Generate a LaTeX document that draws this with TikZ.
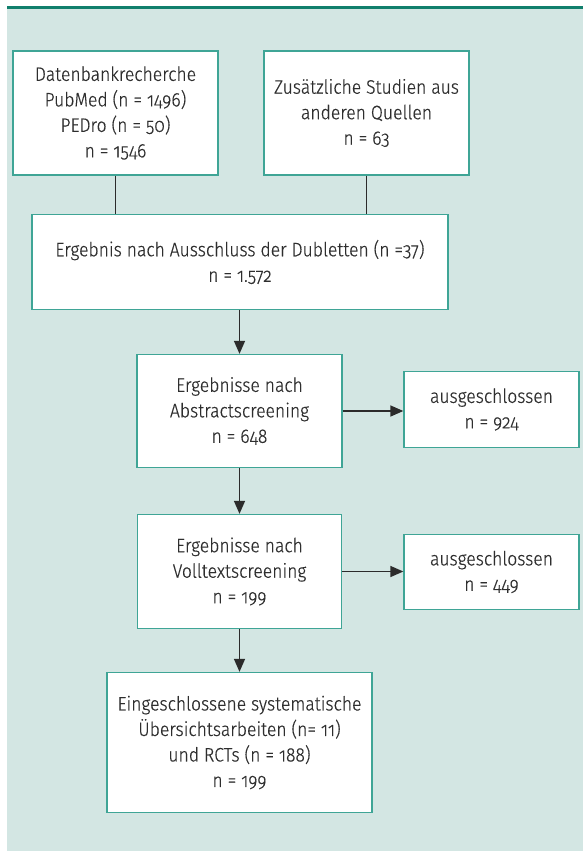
\documentclass[tikz,border=0pt]{standalone}
\usepackage{fontspec}
\setmainfont{Fira Sans}[UprightFont={* Light}, Numbers=OldStyle, FakeStretch=0.9, FakeBold=0.4]
\usetikzlibrary{arrows.meta}
\definecolor{bgc}{HTML}{D3E6E3}
\definecolor{topc}{HTML}{117F6C}
\definecolor{boxc}{HTML}{3FA596}
\definecolor{linec}{HTML}{2B2B2B}
\definecolor{txt}{HTML}{2E2E2E}
\begin{document}
\begin{tikzpicture}[x=1pt,y=-1pt,
  box/.style={draw=boxc, line width=1.3pt, fill=white, inner sep=0pt, align=center,
    font=\fontsize{19.5}{25.5}\selectfont, text=txt},
  arr/.style={draw=linec, line width=1.4pt, -{Triangle[length=13pt,width=11pt]}},
  ln/.style={draw=linec, line width=1.4pt}]
\useasboundingbox (0,0) rectangle (583,851);
\fill[bgc] (7,8) rectangle (583,851);
\fill[topc] (7,6) rectangle (583,9.5);
\node[box, minimum width=205pt, minimum height=124pt] (b1) at (115.5,113)
  {Datenbankrecherche\\PubMed (n = 1496)\\PEDro (n = 50)\\n = 1546};
\node[box, minimum width=205pt, minimum height=124pt] (b2) at (366.5,113)
  {Zusätzliche Studien aus\\anderen Quellen\\n = 63};
\node[box, minimum width=416pt, minimum height=95pt] (b3) at (240,262)
  {Ergebnis nach Ausschluss der Dubletten (n =37)\\n = 1.572};
\node[box, minimum width=205pt, minimum height=113pt] (b4) at (239.5,411)
  {Ergebnisse nach\\Abstractscreening\\n = 648};
\node[box, minimum width=175pt, minimum height=76pt] (b5) at (491.5,409.5)
  {ausgeschlossen\\n = 924};
\node[box, minimum width=204pt, minimum height=114pt] (b6) at (239.5,571.5)
  {Ergebnisse nach\\Volltextscreening\\n = 199};
\node[box, minimum width=175pt, minimum height=75pt] (b7) at (491.5,572)
  {ausgeschlossen\\n = 449};
\node[box, minimum width=265pt, minimum height=140pt] (b8) at (239.5,742.5)
  {Eingeschlossene systematische\\Übersichtsarbeiten (n= 11)\\und RCTs (n = 188)\\n = 199};
\draw[ln] (b1.south) -- (b1.south |- b3.north);
\draw[ln] (b2.south) -- (b2.south |- b3.north);
\draw[arr] (b3.south -| b4.north) -- (b4.north);
\draw[arr] (b4.east) -- (b4.east -| b5.west);
\draw[arr] (b4.south) -- (b6.north);
\draw[arr] (b6.east) -- (b6.east -| b7.west);
\draw[arr] (b6.south) -- (b8.north);
\end{tikzpicture}
\end{document}
